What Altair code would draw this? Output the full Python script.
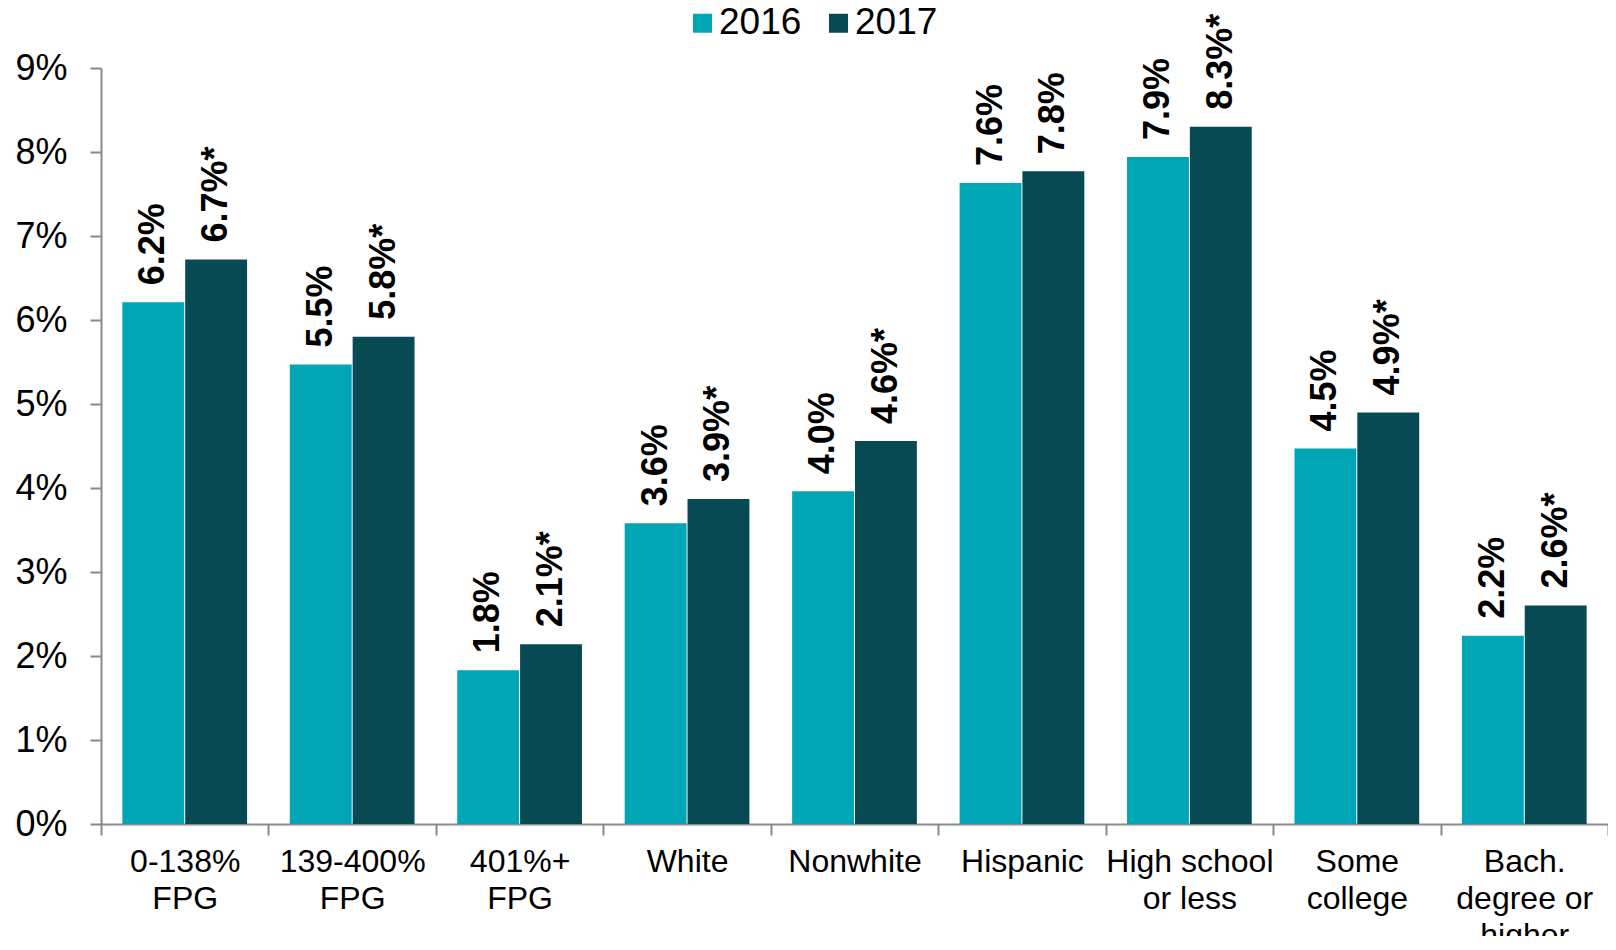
import altair as alt
import pandas as pd

categories = ["0-138%\nFPG", "139-400%\nFPG", "401%+\nFPG", "White", "Nonwhite",
              "Hispanic", "High school\nor less", "Some\ncollege", "Bach.\ndegree or\nhigher"]
years = ["2016", "2017"]
values_2016 = [6.21, 5.47, 1.83, 3.58, 3.96, 7.63, 7.94, 4.47, 2.24]
values_2017 = [6.72, 5.80, 2.14, 3.87, 4.56, 7.77, 8.30, 4.90, 2.60]
labels_2016 = ["6.2%", "5.5%", "1.8%", "3.6%", "4.0%", "7.6%", "7.9%", "4.5%", "2.2%"]
labels_2017 = ["6.7%*", "5.8%*", "2.1%*", "3.9%*", "4.6%*", "7.8%", "8.3%*", "4.9%*", "2.6%*"]
y_ticks = [0, 1, 2, 3, 4, 5, 6, 7, 8, 9]
colors = ["#00A6B6", "#074A53"]

rows = []
for i, c in enumerate(categories):
    rows.append({"cat": c, "year": years[0], "value": values_2016[i], "label": labels_2016[i]})
    rows.append({"cat": c, "year": years[1], "value": values_2017[i], "label": labels_2017[i]})
df = pd.DataFrame(rows)

FONT = "Liberation Sans"

x = alt.X(
    "cat:N", sort=categories,
    scale=alt.Scale(paddingInner=0, paddingOuter=0),
    axis=alt.Axis(
        title=None, labelAngle=0, labelExpr="split(datum.label, '\\n')",
        tickBand="extent", tickSize=11, labelPadding=11,
        labelFontSize=32, labelLineHeight=37, labelColor="black", labelFont=FONT,
        domainColor="#898989", tickColor="#898989", domainWidth=2, tickWidth=2,
        labelBaseline="top",
    ),
)
xo = alt.XOffset("year:N", sort=years, scale=alt.Scale(paddingInner=0.015, paddingOuter=0.34))
y = alt.Y(
    "value:Q",
    scale=alt.Scale(domain=[0, 9], nice=False),
    axis=alt.Axis(
        title=None, values=y_ticks, labelExpr="datum.value + '%'",
        tickSize=11, labelPadding=23, labelFontSize=36, labelColor="black", labelFont=FONT,
        domainColor="#898989", tickColor="#898989", domainWidth=2, tickWidth=2, grid=False,
    ),
)

base = alt.Chart(df).encode(x=x, xOffset=xo, y=y)

bars = base.mark_bar().encode(
    color=alt.Color(
        "year:N", sort=years,
        scale=alt.Scale(domain=years, range=colors),
        legend=alt.Legend(
            title=None, orient="none", direction="horizontal",
            legendX=583, legendY=-63.5, padding=0,
            symbolType="square", symbolSize=361, symbolStrokeWidth=0,
            labelFontSize=37, labelFont=FONT, labelColor="black",
            labelOffset={"expr": "-2"}, columnPadding=18,
        ),
    )
)

text = base.mark_text(
    angle=270, align="left", baseline="middle", dx=17,
    fontSize=36, fontWeight="bold", font=FONT, color="black",
).encode(text="label:N")

chart = alt.layer(bars, text).properties(
    width=1507, height=756,
    autosize=alt.AutoSizeParams(type="none"),
    padding={"left": 93, "top": 60, "right": 0, "bottom": 112},
).configure_view(stroke=None)

chart.save("out.html", embed_options={"renderer": "svg", "actions": False})
